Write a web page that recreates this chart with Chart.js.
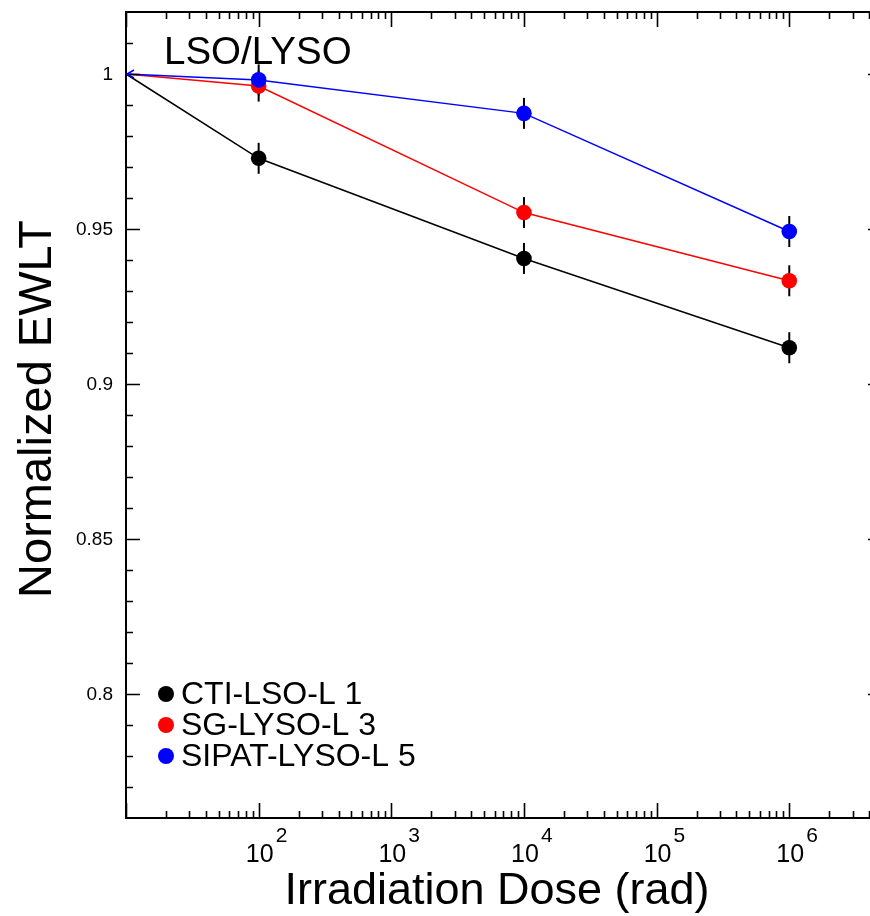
<!DOCTYPE html>
<html>
<head>
<meta charset="utf-8">
<script src="https://cdn.jsdelivr.net/npm/chart.js@4/dist/chart.umd.min.js"></script>
<style>
html,body{margin:0;padding:0;background:#fff;overflow:hidden;}
#wrap{width:900px;height:916px;}
</style>
</head>
<body>
<div id="wrap"><canvas id="c" width="900" height="916"></canvas></div>
<script>
// ---- data ----
const doses = [10, 100, 1e4, 1e6];
const ctiLSO = [1, 0.9728, 0.9405, 0.9117];
const sgLYSO = [1, 0.9961, 0.9553, 0.9333];
const sipatLYSO = [1, 0.9981, 0.9873, 0.9492];
const ctiErr = [0, 0.005, 0.005, 0.005];
const sgErr = [0, 0.005, 0.005, 0.005];
const sipatErr = [0, 0.005, 0.005, 0.005];
const seriesNames = ['CTI-LSO-L 1', 'SG-LYSO-L 3', 'SIPAT-LYSO-L 5'];
const xTickValues = [100, 1e3, 1e4, 1e5, 1e6];
const xTickBase = ['10', '10', '10', '10', '10'];
const xTickExp = ['2', '3', '4', '5', '6'];
const yTickValues = [1, 0.95, 0.9, 0.85, 0.8];
const yTickLabels = ['1', '0.95', '0.9', '0.85', '0.8'];
const xTitle = 'Irradiation Dose (rad)';
const yTitle = 'Normalized EWLT';
const plotLabel = 'LSO/LYSO';

const FONT = '"Liberation Sans", Arial, Helvetica, sans-serif';
const colors = ['#000000', '#ff0000', '#0000ff'];
const allVals = [ctiLSO, sgLYSO, sipatLYSO];
const allErr = [ctiErr, sgErr, sipatErr];

function mk(i, order) {
  return {
    label: seriesNames[i],
    data: doses.map((d, k) => ({x: d, y: allVals[i][k]})),
    borderColor: colors[i],
    backgroundColor: colors[i],
    borderWidth: 1.5,
    pointRadius: doses.map((d, k) => k === 0 ? 0 : 7.8),
    pointBorderWidth: 0,
    pointHoverRadius: 7.8,
    tension: 0,
    order: order
  };
}

const frame = {
  id: 'frame',
  beforeDatasetsDraw(chart) {
    const ctx = chart.ctx, xs = chart.scales.x, ys = chart.scales.y;
    ctx.save();
    ctx.strokeStyle = '#000';
    ctx.lineWidth = 2;
    allVals.forEach((vals, i) => {
      vals.forEach((v, k) => {
        const e = allErr[i][k];
        if (!e) return;
        const px = xs.getPixelForValue(doses[k]);
        ctx.beginPath();
        ctx.moveTo(px, ys.getPixelForValue(v - e));
        ctx.lineTo(px, ys.getPixelForValue(v + e));
        ctx.stroke();
      });
    });
    ctx.restore();
  },
  afterDraw(chart) {
    const ctx = chart.ctx, a = chart.chartArea, xs = chart.scales.x, ys = chart.scales.y;
    ctx.save();
    ctx.strokeStyle = '#000';
    ctx.fillStyle = '#000';
    ctx.lineWidth = 2;
    ctx.strokeRect(a.left, a.top, a.right - a.left, a.bottom - a.top);
    ctx.lineWidth = 1.6;
    // x ticks (log)
    for (let d = 10; d <= 1e6; d *= 10) {
      for (let m = 1; m <= 9; m++) {
        const v = d * m;
        if (v < xs.min || v > xs.max) continue;
        const px = Math.round(xs.getPixelForValue(v)) + 0.5;
        const len = m === 1 ? 15 : 7;
        ctx.beginPath();
        ctx.moveTo(px, a.bottom); ctx.lineTo(px, a.bottom - len);
        ctx.moveTo(px, a.top); ctx.lineTo(px, a.top + len);
        ctx.stroke();
      }
    }
    // y ticks
    for (let t = 77; t <= 101; t++) {
      const v = t / 100;
      const py = Math.round(ys.getPixelForValue(v)) + 0.5;
      const len = (t % 5 === 0) ? 14 : 7;
      ctx.beginPath();
      ctx.moveTo(a.left, py); ctx.lineTo(a.left + len, py);
      ctx.moveTo(a.right, py); ctx.lineTo(a.right - len, py);
      ctx.stroke();
    }
    // small arrow marker at the first (reference) point
    const p0x = xs.getPixelForValue(doses[0]), p0y = ys.getPixelForValue(sipatLYSO[0]);
    ctx.strokeStyle = colors[2];
    ctx.lineWidth = 1.5;
    ctx.beginPath();
    ctx.moveTo(p0x + 8, p0y - 4); ctx.lineTo(p0x + 1, p0y); ctx.lineTo(p0x + 8, p0y + 4);
    ctx.stroke();
    ctx.strokeStyle = '#000';
    // y labels
    ctx.font = '19px ' + FONT;
    ctx.textAlign = 'right';
    ctx.textBaseline = 'middle';
    yTickValues.forEach((v, i) => {
      ctx.fillText(yTickLabels[i], a.left - 13, ys.getPixelForValue(v) + 1);
    });
    // x labels with superscripts
    ctx.textBaseline = 'alphabetic';
    xTickValues.forEach((v, i) => {
      const px = xs.getPixelForValue(v);
      ctx.font = '25px ' + FONT;
      ctx.textAlign = 'center';
      ctx.fillText(xTickBase[i], px + 1, 862);
      ctx.font = '21px ' + FONT;
      ctx.textAlign = 'left';
      ctx.fillText(xTickExp[i], px + 17, 842);
    });
    // axis titles
    ctx.font = '45px ' + FONT;
    ctx.textAlign = 'center';
    ctx.fillText(xTitle, 497, 904);
    ctx.save();
    ctx.translate(51, 409);
    ctx.rotate(-Math.PI / 2);
    ctx.font = '47px ' + FONT;
    ctx.fillText(yTitle, 0, 0);
    ctx.restore();
    // plot label
    ctx.font = '38.5px ' + FONT;
    ctx.textAlign = 'left';
    ctx.fillText(plotLabel, 164, 64);
    // legend
    const rows = [694, 725, 756];
    seriesNames.forEach((n, i) => {
      ctx.fillStyle = colors[i];
      ctx.beginPath();
      ctx.arc(166, rows[i], 8, 0, Math.PI * 2);
      ctx.fill();
      ctx.fillStyle = '#000';
      ctx.font = '32px ' + FONT;
      ctx.textBaseline = 'middle';
      ctx.fillText(n, 181, rows[i] + 1);
      ctx.textBaseline = 'alphabetic';
    });
    ctx.restore();
  }
};

new Chart(document.getElementById('c'), {
  type: 'line',
  data: { datasets: [mk(0, 3), mk(1, 2), mk(2, 1)] },
  options: {
    responsive: false,
    animation: false,
    devicePixelRatio: 1,
    layout: { padding: { left: 126, right: 18, top: 12, bottom: 98 } },
    plugins: { legend: { display: false }, tooltip: { enabled: false } },
    scales: {
      x: { type: 'logarithmic', min: 10, max: 5e6, display: false },
      y: { type: 'linear', min: 0.76, max: 1.02, display: false }
    }
  },
  plugins: [frame]
});
</script>
</body>
</html>
